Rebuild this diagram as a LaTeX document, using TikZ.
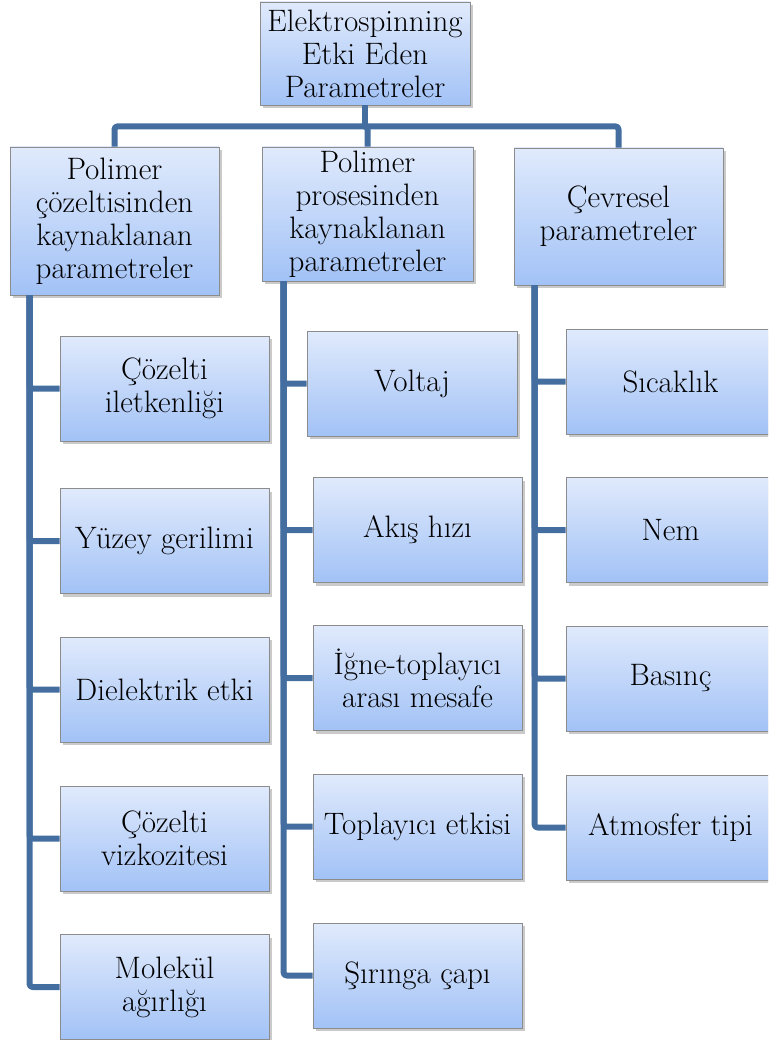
\documentclass[tikz,border=0pt]{standalone}
\usepackage{fontspec}
\usetikzlibrary{shadows,calc}
\definecolor{boxtop}{RGB}{224,234,252}
\definecolor{boxbot}{RGB}{162,194,246}
\definecolor{linec}{RGB}{68,110,160}
\definecolor{boxborder}{RGB}{140,140,140}
\tikzset{
  pbox/.style={draw=boxborder, line width=0.8pt, top color=boxtop, bottom color=boxbot,
    inner sep=0pt, align=center, font=\rmfamily\fontsize{31}{33}\selectfont,
    drop shadow={shadow xshift=2.5pt, shadow yshift=-3pt, opacity=0.35, fill=black!60}},
  conn/.style={draw=linec, line width=6pt, line join=round, rounded corners=3pt}
}
\begin{document}
\begin{tikzpicture}[x=1pt,y=-1pt]
\useasboundingbox (0,0) rectangle (768,1040);
\clip (0,0) rectangle (768,1040);
% top
\node[pbox, minimum width=210pt, minimum height=103pt] (top) at (365,53.5) {Elektrospinning\\Etki Eden\\Parametreler};
% level 1
\node[pbox, minimum width=209pt, minimum height=148pt] (L0) at (114.5,221) {Polimer\\çözeltisinden\\kaynaklanan\\parametreler};
\node[pbox, minimum width=211pt, minimum height=134pt] (M0) at (367.5,214) {Polimer\\prosesinden\\kaynaklanan\\parametreler};
\node[pbox, minimum width=209pt, minimum height=137pt] (R0) at (618.5,216.5) {Çevresel\\parametreler};
% connectors top
\draw[conn] (top.south) -- ++(0,21) coordinate (hub);
\draw[conn] (hub) -| (L0.north);
\draw[conn] (hub) -| (M0.north);
\draw[conn] (hub) -| (R0.north);
% left column
\tikzset{lc/.style={pbox, minimum width=209pt, minimum height=105pt}}
\node[lc] (L1) at (164.5,388.5) {Çözelti\\iletkenliği};
\node[lc] (L2) at (164.5,541) {Yüzey gerilimi};
\node[lc] (L3) at (164.5,689.5) {Dielektrik etki};
\node[lc] (L4) at (164.5,838.5) {Çözelti\\vizkozitesi};
\node[lc] (L5) at (164.5,987) {Molekül\\ağırlığı};
% middle column
\node[lc, minimum width=210pt] (M1) at (412,383.5) {Voltaj};
\node[lc] (M2) at (417.5,530) {Akış hızı};
\node[lc] (M3) at (417.5,678) {İğne-toplayıcı\\arası mesafe};
\node[lc] (M4) at (417.5,826.5) {Toplayıcı etkisi};
\node[lc] (M5) at (417.5,975.5) {Şırınga çapı};
% right column
\node[lc] (R1) at (670.5,381.5) {Sıcaklık};
\node[lc] (R2) at (670.5,530) {Nem};
\node[lc] (R3) at (670.5,678.5) {Basınç};
\node[lc] (R4) at (670.5,827.5) {Atmosfer tipi};
% column connectors
\coordinate (lstart) at ($(L0.south west)+(20,0)$);
\coordinate (mstart) at ($(M0.south west)+(22,0)$);
\coordinate (rstart) at ($(R0.south west)+(21,0)$);
\foreach \n in {L1,L2,L3,L4,L5} \draw[conn] (lstart) |- (\n.west);
\foreach \n in {M1,M2,M3,M4,M5} \draw[conn] (mstart) |- (\n.west);
\foreach \n in {R1,R2,R3,R4} \draw[conn] (rstart) |- (\n.west);
\end{tikzpicture}
\end{document}
